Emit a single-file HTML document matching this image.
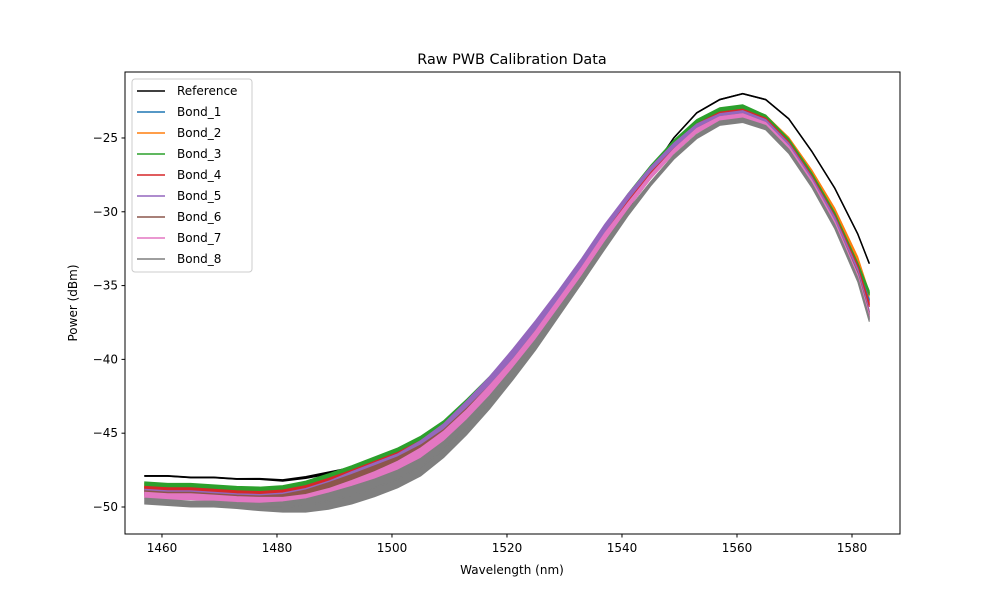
<!DOCTYPE html>
<html><head><meta charset="utf-8"><style>
body{margin:0;background:#fff;font-family:"Liberation Sans","DejaVu Sans",sans-serif;}
svg text{font-family:"DejaVu Sans","Liberation Sans",sans-serif;font-size:12px;fill:#000}
</style></head><body>
<svg id="chart" width="1000" height="600" viewBox="0 0 1000 600" xmlns="http://www.w3.org/2000/svg">
<rect width="1000" height="600" fill="#fff"/>
<g id="plot"></g>
<rect x="125" y="72" width="775" height="462" fill="none" stroke="#000" stroke-width="1"/>
<text x="512" y="64" text-anchor="middle" style="font-size:14.4px">Raw PWB Calibration Data</text>
<text x="512" y="574" text-anchor="middle">Wavelength (nm)</text>
<text x="77" y="303" text-anchor="middle" transform="rotate(-90 77 303)">Power (dBm)</text>
<g id="axes"></g>
<g id="legend"></g>
</svg>
<script>
const wavelengths=[1457,1461,1465,1469,1473,1477,1481,1485,1489,1493,1497,1501,1505,1509,1513,1517,1521,1525,1529,1533,1537,1541,1545,1549,1553,1557,1561,1565,1569,1573,1577,1581,1583];
const seriesNames=["Reference","Bond_1","Bond_2","Bond_3","Bond_4","Bond_5","Bond_6","Bond_7","Bond_8"];
const seriesColors=["#000000","#1f77b4","#ff7f0e","#2ca02c","#d62728","#9467bd","#8c564b","#e377c2","#7f7f7f"];
const reference=[-47.9,-47.9,-48.0,-48.0,-48.1,-48.1,-48.2,-48.0,-47.7,-47.4,-47.0,-46.6,-46.0,-45.1,-43.9,-42.4,-40.7,-38.9,-36.9,-34.8,-32.4,-29.9,-27.3,-25.0,-23.3,-22.4,-22.0,-22.4,-23.7,-25.9,-28.4,-31.5,-33.5];
const bond1=[-48.9,-49.0,-49.0,-49.1,-49.2,-49.3,-49.3,-49.1,-48.7,-48.2,-47.6,-47.0,-46.2,-45.1,-43.6,-42.0,-40.2,-38.2,-36.1,-33.9,-31.6,-29.4,-27.4,-25.7,-24.4,-23.6,-23.4,-24.0,-25.6,-27.9,-30.6,-34.0,-36.0];
const bond2=[-48.6,-48.7,-48.7,-48.8,-48.9,-49.0,-49.0,-48.8,-48.4,-47.9,-47.3,-46.7,-45.9,-44.8,-43.3,-41.7,-39.9,-37.9,-35.8,-33.6,-31.3,-29.1,-27.1,-25.4,-24.0,-23.2,-23.0,-23.6,-25.1,-27.3,-29.9,-33.2,-35.6];
const bond3=[-48.5,-48.6,-48.6,-48.7,-48.8,-48.9,-48.9,-48.7,-48.3,-47.8,-47.2,-46.6,-45.8,-44.7,-43.2,-41.6,-39.8,-37.8,-35.7,-33.5,-31.2,-29.0,-27.0,-25.3,-23.9,-23.1,-22.9,-23.6,-25.2,-27.5,-30.2,-33.6,-35.5];
const bond4=[-48.8,-48.9,-48.9,-49.0,-49.1,-49.2,-49.2,-49.0,-48.6,-48.1,-47.5,-46.9,-46.1,-45.0,-43.5,-41.9,-40.1,-38.1,-36.0,-33.8,-31.5,-29.3,-27.3,-25.6,-24.2,-23.4,-23.2,-23.8,-25.4,-27.7,-30.4,-33.8,-36.3];
const bond5=[-49.0,-49.1,-49.1,-49.2,-49.3,-49.4,-49.4,-49.2,-48.8,-48.2,-47.6,-47.0,-46.1,-44.9,-43.3,-41.6,-39.7,-37.7,-35.6,-33.4,-31.1,-29.0,-27.1,-25.5,-24.2,-23.5,-23.3,-23.9,-25.5,-27.8,-30.5,-34.0,-36.8];
const bond6=[-49.1,-49.2,-49.2,-49.3,-49.4,-49.5,-49.5,-49.3,-48.9,-48.4,-47.8,-47.2,-46.4,-45.3,-43.8,-42.2,-40.4,-38.4,-36.3,-34.1,-31.8,-29.6,-27.6,-25.9,-24.5,-23.7,-23.5,-24.1,-25.7,-28.0,-30.8,-34.3,-37.0];
const bond7=[-49.2,-49.3,-49.3,-49.4,-49.5,-49.6,-49.7,-49.6,-49.3,-48.8,-48.2,-47.5,-46.6,-45.4,-43.9,-42.2,-40.4,-38.4,-36.2,-34.0,-31.7,-29.6,-27.6,-25.9,-24.5,-23.7,-23.5,-24.1,-25.7,-28.0,-30.8,-34.4,-37.1];
const bond8=[-49.6,-49.7,-49.8,-49.8,-49.9,-50.0,-50.0,-49.9,-49.6,-49.2,-48.7,-48.1,-47.3,-46.1,-44.6,-42.9,-41.0,-39.0,-36.8,-34.6,-32.3,-30.1,-28.1,-26.3,-24.9,-24.0,-23.8,-24.3,-25.9,-28.2,-31.0,-34.6,-37.3];
const rippleAmp=[0.4,0.4,0.4,0.4,0.4,0.5,0.7,0.9,1.1,1.2,1.2,1.2,1.2,1.1,1.0,0.9,0.8,0.7,0.6,0.5,0.5,0.4,0.3,0.3,0.3,0.3,0.3,0.3,0.3,0.3,0.3,0.3,0.3];
const xTicks=[1460,1480,1500,1520,1540,1560,1580];
const yTicks=[-50,-45,-40,-35,-30,-25];
const allSeries=[reference,bond1,bond2,bond3,bond4,bond5,bond6,bond7,bond8];

const NS="http://www.w3.org/2000/svg";
const X0=125,X1=900,Y0=72,Y1=534;
const xMin=1453.57,xMax=1588.35,yMin=-51.83,yMax=-20.53;
function xs(v){return X0+(v-xMin)/(xMax-xMin)*(X1-X0);}
function ys(v){return Y1-(v-yMin)/(yMax-yMin)*(Y1-Y0);}
function mk(tag,attrs,parent){const e=document.createElementNS(NS,tag);for(const k in attrs)e.setAttribute(k,attrs[k]);parent.appendChild(e);return e;}

const plot=document.getElementById('plot');
allSeries.forEach((s,si)=>{
  const g=mk('g',{},plot);
  
  
  const amp=si===0?0.15:1;
  let up=[],dn=[];
  wavelengths.forEach((w,i)=>{const a=rippleAmp[i]*amp/2;up.push(xs(w)+','+ys(s[i]+a));dn.unshift(xs(w)+','+ys(s[i]-a));});
  const band=mk('polygon',{points:up.concat(dn).join(' '),fill:seriesColors[si],stroke:seriesColors[si],'stroke-width':1},g);
  
  
  const pts=wavelengths.map((w,i)=>xs(w)+','+ys(s[i])).join(' ');
  const line=mk('polyline',{points:pts,fill:'none',stroke:seriesColors[si],'stroke-width':1.5},g);
  
  
});

const axes=document.getElementById('axes');
xTicks.forEach(t=>{
  const x=xs(t);
  const l=mk('line',{x1:x,x2:x,y1:Y1,y2:Y1+3.5,stroke:'#000'},axes);
  
  
  const tx=mk('text',{x:x,y:Y1+18,'text-anchor':'middle'},axes);tx.textContent=t;
  
  
});
yTicks.forEach(t=>{
  const y=ys(t);
  const l=mk('line',{x1:X0-3.5,x2:X0,y1:y,y2:y,stroke:'#000'},axes);
  
  
  const tx=mk('text',{x:X0-7,y:y+4,'text-anchor':'end'},axes);tx.textContent='\u2212'+Math.abs(t);
  
  
});

const leg=document.getElementById('legend');
const box=mk('rect',{x:132,y:79,width:120,height:193,rx:3,fill:'#fff','fill-opacity':0.8,stroke:'#ccc'},leg);


seriesNames.forEach((n,i)=>{
  const y=91+i*21;
  const g=mk('g',{},leg);
  
  
  mk('line',{x1:137,x2:165,y1:y,y2:y,stroke:seriesColors[i],'stroke-width':1.5},g);
  const t=mk('text',{x:177,y:y+4},g);t.textContent=n;
});
</script>
</body></html>
